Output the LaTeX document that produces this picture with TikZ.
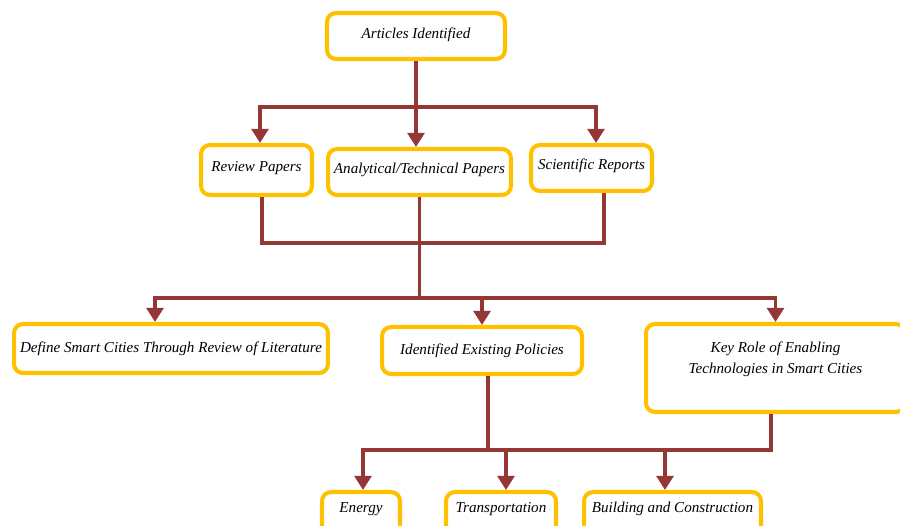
\documentclass[tikz,border=0pt]{standalone}
\usepackage{fontspec}
\setmainfont{Liberation Serif}
\usepackage{xcolor}
\usepackage{tikz}
\usetikzlibrary{positioning,arrows.meta}
\definecolor{boxgold}{HTML}{FFC000}
\definecolor{linkred}{HTML}{953735}

\begin{document}
\begin{tikzpicture}[x=0.02cm, y=-0.02cm,
    box/.style={draw=boxgold, line width=2.3pt, rectangle, rounded corners=1.8mm, fill=white, align=center, font=\fontsize{8.6}{12}\selectfont\itshape, inner sep=2pt},
    link/.style={draw=linkred, line width=2.2pt},
    arr/.style={link, -{Triangle[width=9.5pt, length=8pt]}}]
        \clip (0,0) rectangle (900,525);
        \fill[white] (0,0) rectangle (900,525);

        % Define the boxes at their places
        \node[box, minimum width=3.56cm, minimum height=0.92cm, text depth=3pt] (art) at (416,36) {Articles Identified};
        \node[box, minimum width=2.22cm, minimum height=1.0cm, text depth=4pt] (rev) at (256.5,170) {Review Papers};
        \node[box, minimum width=3.66cm, minimum height=0.92cm, text depth=4pt] (ana) at (419.5,172) {Analytical/Technical Papers};
        \node[box, minimum width=2.42cm, minimum height=0.92cm, text depth=4pt] (sci) at (591.5,168) {Scientific Reports};
        \node[box, minimum width=6.28cm, minimum height=0.98cm] (def) at (171,348.5) {Define Smart Cities Through Review of Literature};
        \node[box, minimum width=4.0cm, minimum height=0.94cm] (pol) at (482,350.5) {Identified Existing Policies};
        \node[box, minimum width=5.18cm, minimum height=1.76cm, text depth=12pt] (key) at (775.5,368) {Key Role of Enabling\\Technologies in Smart Cities};
        \node[box, minimum width=1.56cm, minimum height=0.92cm, text depth=9pt] (ene) at (361,515) {Energy};
        \node[box, minimum width=2.2cm, minimum height=0.92cm, text depth=9pt] (tra) at (501,515) {Transportation};
        \node[box, minimum width=3.54cm, minimum height=0.92cm, text depth=9pt] (bui) at (672.5,515) {Building and Construction};

        % Junction points of the tree
        \coordinate (j1) at (416,107);
        \coordinate (j2) at (419.5,243);
        \coordinate (j3) at (419.5,298);
        \coordinate (j4) at (488,450);

        % First split
        \draw[link] (art.south) -- (j1);
        \draw[arr] (j1) -| ([xshift=0.07cm]rev.north);
        \draw[arr] (j1) -- (art.south |- ana.north);
        \draw[arr] (j1) -| ([xshift=0.09cm]sci.north);

        % Papers joined again
        \draw[link] ([xshift=0.11cm]rev.south) |- (j2) -| ([xshift=0.25cm]sci.south);
        \draw[link] (ana.south) -- (j3);
        \draw[arr] (j3) -| ([xshift=-0.32cm]def.north);
        \draw[arr] (j3) -| (pol.north);
        \draw[arr] (j3) -| (key.north);

        % Second split
        \draw[link] ([xshift=0.12cm]pol.south) -- (j4);
        \draw[link] ([xshift=-0.09cm]key.south) |- (j4);
        \draw[arr] (j4) -| ([xshift=0.04cm]ene.north);
        \draw[arr] (j4) -| ([xshift=0.1cm]tra.north);
        \draw[arr] (j4) -| ([xshift=-0.15cm]bui.north);
    \end{tikzpicture}
\end{document}
